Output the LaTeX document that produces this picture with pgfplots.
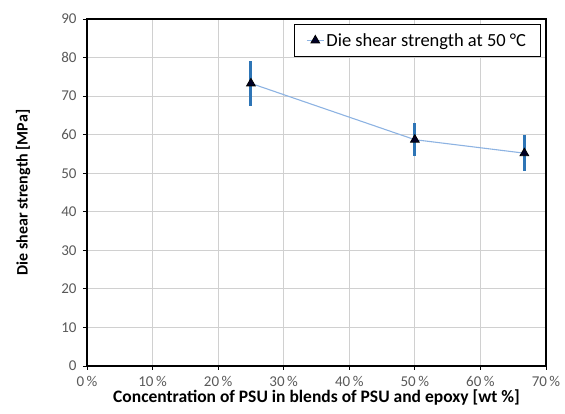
\documentclass[border=0pt]{standalone}
\usepackage{pgfplots}
\pgfplotsset{compat=1.18}
\usepackage{fontspec}
\setmainfont{Carlito}
\definecolor{linecol}{HTML}{8DB3E2}
\definecolor{errcol}{HTML}{2E75B6}
\definecolor{tickgray}{HTML}{595959}
\definecolor{gridgray}{HTML}{D0D0D0}
\begin{document}
\begin{tikzpicture}
\path[use as bounding box] (-87pt,-48pt) rectangle (478pt,366pt);
\begin{axis}[
  at={(0pt,0pt)}, anchor=south west,
  scale only axis, width=459pt, height=347pt,
  xmin=0, xmax=70, ymin=0, ymax=90,
  xtick={0,10,...,70}, ytick={0,10,...,90},
  xticklabel={\pgfmathprintnumber{\tick}\,\%},
  /pgf/number format/assume math mode=true,
  tick label style={font=\fontsize{15}{17}\selectfont, text=tickgray},
  xticklabel style={yshift=-3pt},
  yticklabel style={xshift=-3pt},
  grid=major, major grid style={gridgray, line width=0.9pt},
  axis line style={black, line width=1.4pt},
  tick style={black, line width=0.8pt}, tick align=outside, major tick length=4pt,
  xtick pos=bottom, ytick pos=left,
  xlabel={\textbf{Concentration of PSU in blends of PSU and epoxy [wt \%]}},
  ylabel={\textbf{Die shear strength [MPa]}},
  xlabel style={font=\fontsize{17.5}{19}\selectfont, yshift=4pt},
  ylabel style={font=\fontsize{16}{18}\selectfont, yshift=24pt},
  legend style={at={(0.988,0.986)}, anchor=north east, draw=black, line width=0.8pt,
    font=\fontsize{18.5}{20}\selectfont, inner xsep=12pt, inner ysep=7pt, legend cell align=left},
]
\addplot[linecol, line width=1.1pt,
  mark=triangle*, mark size=5pt, mark options={fill=black!85!blue, draw=black, line width=0.8pt},
  error bars/.cd, y dir=both, y explicit,
  error bar style={errcol, line width=3pt}, error mark=none]
  coordinates {
  (25,73.3) +- (0,5.8)
  (50,58.7) +- (0,4.2)
  (66.7,55.2) +- (0,4.7)
  };
\addlegendentry{Die shear strength at 50 °C}
\end{axis}
\end{tikzpicture}
\end{document}
